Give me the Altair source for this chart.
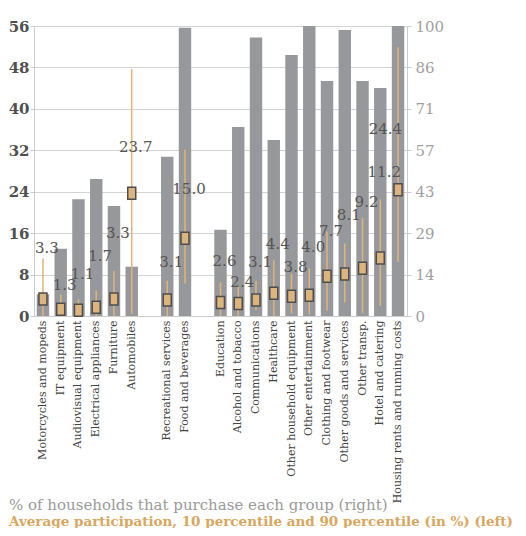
import altair as alt
import pandas as pd

categories = [
    "Motorcycles and mopeds", "IT equipment", "Audiovisual equipment",
    "Electrical appliances", "Furniture", "Automobiles",
    "Recreational services", "Food and beverages",
    "Education", "Alcohol and tobacco", "Communications", "Healthcare",
    "Other household equipment", "Other entertainment", "Clothing and footwear",
    "Other goods and services", "Other transp.", "Hotel and catering",
    "Housing rents and running costs",
]
# % of households that purchase each group (right axis)
households_pct = [7.5, 23.2, 40.3, 47.2, 37.9, 17.0, 54.9, 99.4, 29.7, 65.2,
                  96.0, 60.7, 90.0, 100.0, 81.0, 98.6, 81.0, 78.6, 100.0]
# Average participation (left axis)
avg_share = [3.3, 1.3, 1.1, 1.7, 3.3, 23.7, 3.1, 15.0, 2.6, 2.4,
             3.1, 4.4, 3.8, 4.0, 7.7, 8.1, 9.2, 11.2, 24.4]
p10 = [0.0, 0.0, 0.0, 0.0, 0.0, 0.4, 0.0, 6.3, 0.0, 0.0,
       1.2, 0.0, 0.5, 0.3, 1.0, 2.6, 0.6, 1.9, 10.5]
p90 = [11.1, 4.2, 3.2, 4.9, 8.7, 47.7, 6.8, 32.1, 6.5, 6.0,
       6.8, 10.8, 8.2, 9.2, 16.3, 14.0, 18.9, 22.5, 51.9]
# where each value label sits (left-axis units)
label_at = [13.2, 6.0, 8.2, 11.6, 16.0, 32.7, 10.5, 24.5, 10.7, 6.5,
            10.5, 13.9, 9.5, 13.4, 16.5, 19.6, 22.1, 27.9, 36.2]

legend_lines = [
    "% of households that purchase each group (right)",
    "Average participation, 10 percentile and 90 percentile (in %) (left)",
]

domain = categories[:6] + ["gap1"] + categories[6:8] + ["gap2"] + categories[8:]

df = pd.DataFrame({
    "category": categories,
    "households": households_pct,
    "avg": avg_share,
    "p10": p10,
    "p90": p90,
    "label_y": label_at,
    "label": [f"{v:.1f}" for v in avg_share],
})

FONT = "DejaVu Serif"

x_enc = alt.X(
    "category:N",
    sort=domain,
    scale=alt.Scale(domain=domain, paddingInner=0.3, paddingOuter=0.155),
    axis=alt.Axis(
        title=None, labelAngle=-90, ticks=False,
        labelExpr="indexof(datum.value, 'gap') == 0 ? '' : datum.value",
        domainColor="#cccccc", labelColor="#444444", labelFontSize=11,
        labelPadding=4, labelFont=FONT, labelLimit=300,
    ),
)

right_scale = alt.Scale(domain=[0, 100], nice=False, zero=True)
right_axis = alt.Axis(
    orient="right", title=None, grid=False,
    values=[100 * k / 7 for k in range(8)], format=".0f",
    domainColor="#cccccc", tickColor="#cccccc", tickSize=4,
    labelColor="#a0a0a0", labelFontSize=15, labelPadding=4, labelFont=FONT,
)

left_scale = alt.Scale(domain=[0, 56], nice=False, zero=True)
left_axis = alt.Axis(
    orient="left", title=None, grid=True, gridColor="#d4d4d4",
    values=[0, 8, 16, 24, 32, 40, 48, 56],
    domainColor="#cccccc", tickColor="#cccccc", tickSize=4,
    labelColor="#505050", labelFontSize=15, labelFontWeight="bold",
    labelPadding=1, labelFont=FONT,
)

base = alt.Chart(df)

bars = base.mark_bar(color="#97989c").encode(
    x=x_enc,
    y=alt.Y("households:Q", scale=right_scale, axis=right_axis),
)

rules = base.mark_rule(color="#E0B47A", strokeWidth=1.5).encode(
    x=x_enc,
    y=alt.Y("p10:Q", scale=left_scale, axis=left_axis),
    y2="p90:Q",
)

points = base.mark_point(
    shape="M-0.667,-1L0.667,-1L0.667,1L-0.667,1Z", size=144, filled=True,
    fill="#DDB47D", stroke="#4d4d4d", strokeWidth=1.5, opacity=1,
).encode(
    x=x_enc,
    y=alt.Y("avg:Q", scale=left_scale, title=None),
)

labels_main = base.transform_filter(
    alt.datum.category != categories[-1]
).mark_text(
    font=FONT, fontSize=15, color="#555555", dx=4, baseline="middle",
).encode(
    x=x_enc,
    y=alt.Y("label_y:Q", scale=left_scale, title=None),
    text="label:N",
)

labels_last = base.transform_filter(
    alt.datum.category == categories[-1]
).mark_text(
    font=FONT, fontSize=15, color="#555555", dx=4, align="right",
    baseline="middle",
).encode(
    x=x_enc,
    y=alt.Y("label_y:Q", scale=left_scale, title=None),
    text="label:N",
)

left_layer = alt.layer(rules, points, labels_main, labels_last)

leg_df = pd.DataFrame({"t": legend_lines})
legend1 = alt.Chart(leg_df).transform_filter(
    alt.datum.t == legend_lines[0]
).mark_text(
    font=FONT, fontSize=15, color="#9a9a9a", align="left", baseline="middle",
).encode(x=alt.value(-25), y=alt.value(479), text="t:N")
legend2 = alt.Chart(leg_df).transform_filter(
    alt.datum.t == legend_lines[1]
).mark_text(
    font=FONT, fontSize=13.5, color="#D9A660", align="left", baseline="middle",
    fontWeight="bold",
).encode(x=alt.value(-25), y=alt.value(496), text="t:N")

chart = alt.layer(bars, left_layer, legend1, legend2).resolve_scale(
    y="independent"
).properties(
    width=373, height=290,
    autosize=alt.AutoSizeParams(type="none"),
    padding={"left": 26, "top": 18, "right": 111, "bottom": 212},
).configure_view(stroke=None).configure(font=FONT)

chart.save("out.html", embed_options={"renderer": "svg", "actions": False})
